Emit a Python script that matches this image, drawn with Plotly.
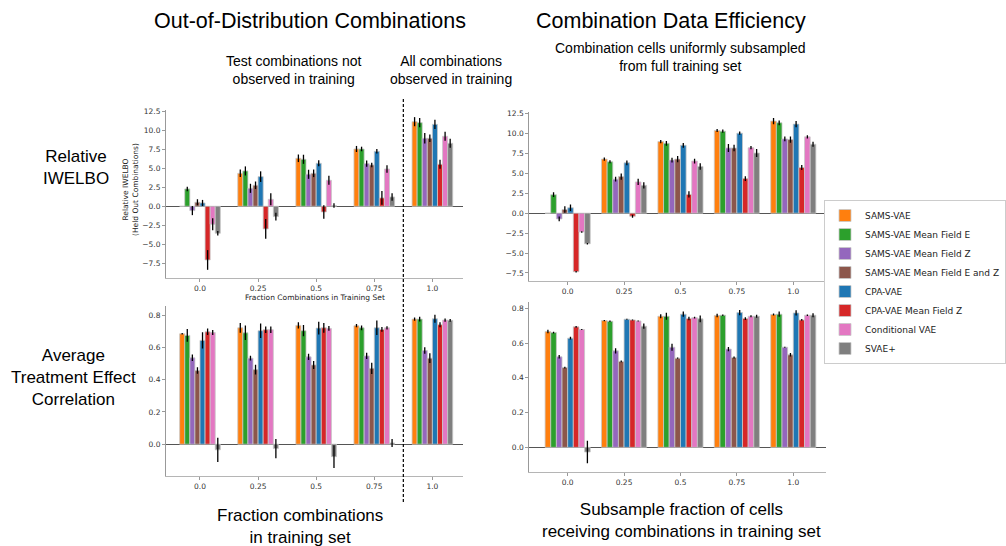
import plotly.graph_objects as go

# ---------------- data ----------------
models = ["SAMS-VAE", "SAMS-VAE Mean Field E", "SAMS-VAE Mean Field Z",
          "SAMS-VAE Mean Field E and Z", "CPA-VAE", "CPA-VAE Mean Field Z",
          "Conditional VAE", "SVAE+"]
colors = ["#ff7f0e", "#2ca02c", "#9467bd", "#8c564b",
          "#1f77b4", "#d62728", "#e377c2", "#7f7f7f"]
fractions = ["0.0", "0.25", "0.5", "0.75", "1.0"]

# Out-of-distribution combinations: relative IWELBO (rows = models, cols = fractions)
ood_iwelbo = [
    [0.0, 4.35, 6.33, 7.56, 11.16],
    [2.29, 4.66, 6.20, 7.56, 11.03],
    [-0.57, 2.37, 4.22, 5.63, 8.97],
    [0.53, 2.77, 4.35, 5.45, 8.97],
    [0.44, 3.91, 5.67, 7.25, 10.81],
    [-7.08, -2.99, -0.75, 1.10, 5.54],
    [-2.37, 0.92, 3.43, 4.92, 9.23],
    [-3.56, -1.36, 0.09, 1.23, 8.31],
]
ood_iwelbo_err = [
    [0.0, 0.5, 0.5, 0.4, 0.6],
    [0.3, 0.6, 0.6, 0.3, 0.6],
    [0.6, 0.6, 0.6, 0.4, 0.7],
    [0.4, 0.5, 0.5, 0.3, 0.5],
    [0.4, 0.7, 0.4, 0.3, 0.6],
    [1.3, 1.3, 0.9, 0.9, 0.6],
    [0.8, 0.8, 0.6, 0.5, 0.6],
    [0.3, 0.5, 0.3, 0.5, 0.6],
]

# Combination data efficiency: relative IWELBO
eff_iwelbo = [
    [0.0, 6.80, 9.00, 10.39, 11.57],
    [2.32, 6.46, 8.78, 10.30, 11.36],
    [-0.72, 4.27, 6.67, 8.19, 9.33],
    [0.46, 4.60, 6.80, 8.19, 9.25],
    [0.68, 6.33, 8.53, 10.05, 11.19],
    [-7.35, -0.38, 2.36, 4.35, 5.74],
    [-2.36, 3.93, 6.55, 8.23, 9.59],
    [-3.84, 3.50, 5.87, 7.56, 8.66],
]
eff_iwelbo_err = [
    [0.0, 0.2, 0.2, 0.2, 0.4],
    [0.3, 0.2, 0.3, 0.2, 0.3],
    [0.3, 0.3, 0.3, 0.5, 0.3],
    [0.4, 0.4, 0.4, 0.4, 0.4],
    [0.4, 0.3, 0.3, 0.2, 0.4],
    [0.1, 0.2, 0.4, 0.3, 0.3],
    [0.1, 0.4, 0.3, 0.2, 0.2],
    [0.1, 0.4, 0.4, 0.5, 0.3],
]

# Out-of-distribution combinations: average treatment effect correlation
ood_corr = [
    [0.684, 0.721, 0.736, 0.734, 0.775],
    [0.674, 0.690, 0.703, 0.721, 0.775],
    [0.535, 0.533, 0.541, 0.547, 0.580],
    [0.456, 0.462, 0.491, 0.470, 0.533],
    [0.643, 0.703, 0.719, 0.721, 0.777],
    [0.696, 0.709, 0.721, 0.711, 0.740],
    [0.692, 0.709, 0.717, 0.721, 0.769],
    [-0.035, -0.027, -0.077, 0.008, 0.767],
]
ood_corr_err = [
    [0.005, 0.030, 0.020, 0.010, 0.010],
    [0.040, 0.045, 0.035, 0.015, 0.015],
    [0.020, 0.015, 0.020, 0.020, 0.020],
    [0.020, 0.030, 0.025, 0.035, 0.030],
    [0.050, 0.045, 0.040, 0.045, 0.025],
    [0.020, 0.020, 0.030, 0.015, 0.015],
    [0.015, 0.020, 0.015, 0.010, 0.010],
    [0.075, 0.060, 0.070, 0.025, 0.008],
]

# Combination data efficiency: average treatment effect correlation
eff_corr = [
    [0.666, 0.729, 0.754, 0.758, 0.764],
    [0.660, 0.725, 0.754, 0.760, 0.766],
    [0.521, 0.555, 0.576, 0.565, 0.576],
    [0.459, 0.494, 0.513, 0.517, 0.532],
    [0.628, 0.737, 0.766, 0.775, 0.773],
    [0.693, 0.733, 0.741, 0.741, 0.733],
    [0.678, 0.727, 0.746, 0.754, 0.760],
    [-0.027, 0.697, 0.739, 0.754, 0.760],
]
eff_corr_err = [
    [0.010, 0.003, 0.012, 0.010, 0.006],
    [0.005, 0.004, 0.020, 0.004, 0.015],
    [0.010, 0.015, 0.020, 0.012, 0.003],
    [0.005, 0.005, 0.004, 0.006, 0.010],
    [0.008, 0.003, 0.015, 0.015, 0.015],
    [0.005, 0.003, 0.010, 0.008, 0.005],
    [0.003, 0.003, 0.005, 0.006, 0.004],
    [0.065, 0.015, 0.020, 0.008, 0.012],
]

# ---------------- figure ----------------
W, H = 1006, 546
TICK_FONT = dict(family="DejaVu Sans", size=7.5, color="#333333")
TEXT_FONT = "Liberation Sans, Arial, sans-serif"

x_idx = list(range(len(fractions)))

panels = [
    # (xaxis, yaxis, means, errs, group width, show legend)
    ("x", "y", ood_iwelbo, ood_iwelbo_err, 0.70, True),
    ("x2", "y2", eff_iwelbo, eff_iwelbo_err, 0.80, False),
    ("x3", "y3", ood_corr, ood_corr_err, 0.70, False),
    ("x4", "y4", eff_corr, eff_corr_err, 0.80, False),
]

fig = go.Figure()
for xa, ya, means, errs, gw, show in panels:
    bw = gw / len(models)
    for i, (name, col) in enumerate(zip(models, colors)):
        fig.add_trace(go.Bar(
            x=x_idx, y=means[i], name=name,
            xaxis=xa, yaxis=ya,
            width=bw, offset=-gw / 2 + i * bw,
            marker=dict(color=col, line=dict(color="#c8c8c8", width=0.8)),
            error_y=dict(type="data", array=errs[i], color="black",
                         thickness=1.3, width=0),
            showlegend=show, legendgroup=name,
        ))


def px_x(v):
    return v / W


def px_y(v):
    return 1 - v / H


def xaxis(domain, rng):
    return dict(domain=domain, range=rng, tickvals=x_idx, ticktext=fractions,
                showline=True, linecolor="#b5b5b5", linewidth=1.2,
                ticks="outside", ticklen=3, tickcolor="#999999",
                tickfont=TICK_FONT, showgrid=False, zeroline=False)


def yaxis(domain, rng, dtick, anchor):
    return dict(domain=domain, range=rng, dtick=dtick, tick0=0, anchor=anchor,
                tickformat=".1f",
                showline=True, linecolor="#999999", linewidth=1,
                ticks="outside", ticklen=3, tickcolor="#999999",
                tickfont=TICK_FONT, showgrid=False,
                zeroline=True, zerolinecolor="#555555", zerolinewidth=1)


left_dom = [px_x(166), px_x(463)]
right_dom = [px_x(529.3), px_x(826)]

fig.update_layout(
    width=W, height=H,
    margin=dict(l=0, r=0, t=0, b=0, autoexpand=False),
    paper_bgcolor="white", plot_bgcolor="white",
    barmode="overlay",
    xaxis=xaxis(left_dom, [-0.585, 4.527]) | dict(anchor="y"),
    yaxis=yaxis([px_y(278), px_y(110)], [-9.46, 12.7], 2.5, "x"),
    xaxis2=xaxis(right_dom, [-0.68, 4.58]) | dict(anchor="y2"),
    yaxis2=yaxis([px_y(280.7), px_y(111.7)], [-8.48, 12.75], 2.5, "x2"),
    xaxis3=xaxis(left_dom, [-0.585, 4.527]) | dict(anchor="y3"),
    yaxis3=yaxis([px_y(475.7), px_y(306)], [-0.195, 0.856], 0.2, "x3"),
    xaxis4=xaxis(right_dom, [-0.68, 4.58]) | dict(anchor="y4"),
    yaxis4=yaxis([px_y(471.7), px_y(302)], [-0.14, 0.836], 0.2, "x4"),
    legend=dict(x=px_x(824), y=px_y(282), xanchor="left", yanchor="middle",
                font=dict(family="DejaVu Sans", size=9.0, color="#222222"),
                bordercolor="#cccccc", borderwidth=1, bgcolor="white",
                traceorder="normal"),
)

# dashed separator between unseen / seen combinations (at x = 3.5 on the left axes)
fig.add_shape(type="line", xref="x", yref="paper", x0=3.5, x1=3.5,
              y0=px_y(502), y1=px_y(97),
              line=dict(color="black", width=1.2, dash="3px,2px"))


def ann(text, x, y, size, family=TEXT_FONT, angle=0, color="black"):
    fig.add_annotation(text=text, x=px_x(x), y=px_y(y), xref="paper", yref="paper",
                       showarrow=False, xanchor="center", yanchor="middle",
                       textangle=angle, font=dict(family=family, size=size, color=color))


ann("Out-of-Distribution Combinations", 310, 21, 21.5)
ann("Combination Data Efficiency", 670.5, 21, 21.5)
ann("Test combinations not<br>observed in training", 293.5, 70, 14)
ann("All combinations<br>observed in training", 451, 70, 14)
ann("Combination cells uniformly subsampled<br>from full training set", 680, 57, 14)
ann("Relative<br>IWELBO", 76, 167.5, 17)
ann("Average<br>Treatment Effect<br>Correlation", 73, 377, 17)
ann("Fraction combinations<br>in training set", 300, 526, 17)
ann("Subsample fraction of cells<br>receiving combinations in training set", 681, 520.5, 17)
ann("Relative IWELBO<br>(Held Out Combinations)", 130, 190, 7.5,
    family="DejaVu Sans", angle=-90, color="#222222")
ann("Fraction Combinations in Training Set", 314.5, 297, 7.5,
    family="DejaVu Sans", color="#222222")

# remove the browser's default page margin so the figure sits at the window origin
fig.write_html("out.html", config={"displayModeBar": False},
               post_script="document.body.style.margin='0';")
